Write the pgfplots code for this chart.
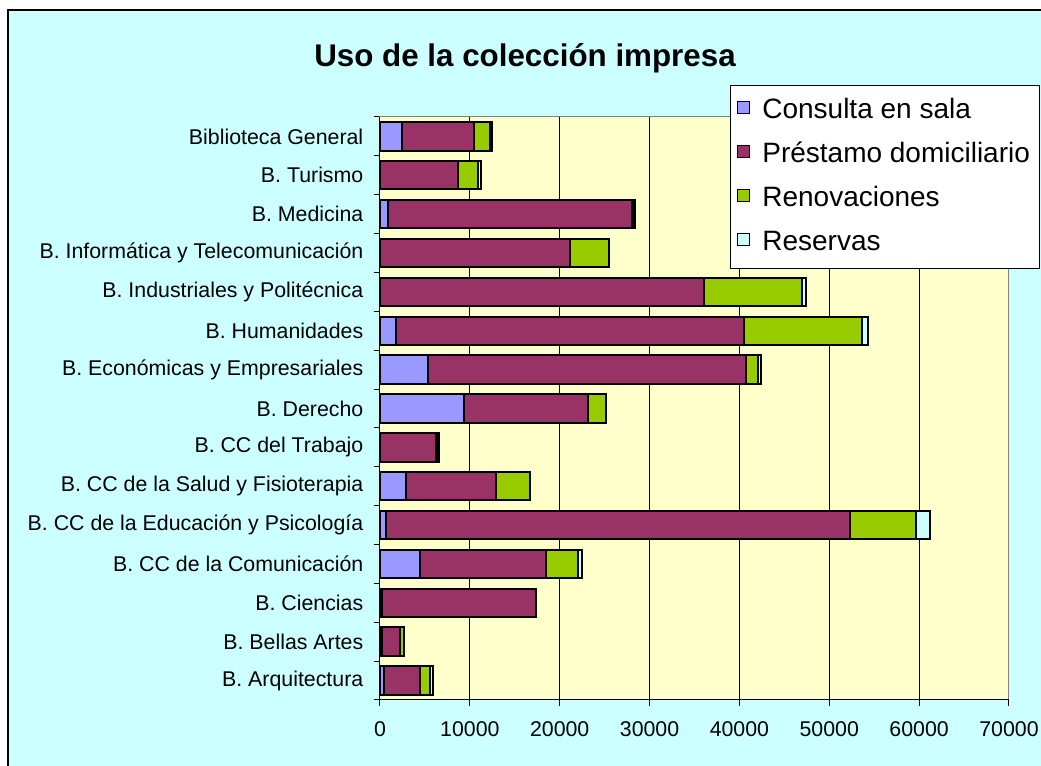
\documentclass[border=0pt]{standalone}
\usepackage{fontspec}
\setmainfont{Liberation Sans}
\usepackage{pgfplots}
\usepackage{pgfplotstable}
\pgfplotsset{compat=1.18}

\definecolor{chartbg}{HTML}{CCFFFF}
\definecolor{plotbg}{HTML}{FFFFCC}
\definecolor{consulta}{HTML}{9999FF}
\definecolor{prestamo}{HTML}{993366}
\definecolor{renov}{HTML}{99CC00}
\definecolor{reservas}{HTML}{CCFFFF}

% idx 0 = B. Arquitectura (abajo) ... 14 = Biblioteca General (arriba)
\pgfplotstableread{
idx consulta prestamo renov reservas
0   445   4045  1030  340
1   250   1980   470    0
2   250  17140     0    0
3  4490  13980  3590  440
4   630  51690  7280 1660
5  2860  10080  3780    0
6     0   6230   150  150
7  9380  13790  2000    0
8  5380  35330  1340  300
9  1780  38750 13120  710
10    0  36040 10930  490
11    0  21170  4270    0
12  925  27145   150  140
13    0   8710  2230  260
14 2480   8010  1710  290
}\datos

\begin{document}
\begin{tikzpicture}[x=0.75pt,y=0.75pt]
% the axis box has its lower left corner at (0,0); the page is 1041 x 766 units
\useasboundingbox (-380,-66) rectangle (661,700);
\clip (-380,-66) rectangle (661,700);
\fill[white] (-380,-66) rectangle (661,700);
\fill[chartbg] (-372,-90) rectangle (700,690);
\draw[line width=1.2pt] (-372,-90) -- (-372,690) -- (700,690);

\node[font=\fontsize{23.5}{28}\selectfont\bfseries] at (145,642) {Uso de la colección impresa};

\begin{axis}[
  scale only axis, width=471.75pt, height=437.25pt,
  xbar stacked, bar width=21.3pt,
  xmin=0, xmax=70000, ymin=-0.5, ymax=14.5,
  xtick={0,10000,...,70000},
  scaled x ticks=false,
  xticklabel style={/pgf/number format/1000 sep={}, /pgf/number format/assume math mode=true,
    font=\fontsize{16}{19}\selectfont, yshift=-8pt},
  ytick={0,...,14},
  yticklabels={B. Arquitectura, B. Bellas Artes, B. Ciencias, B. CC de la Comunicación,
    B. CC de la Educación y Psicología, B. CC de la Salud y Fisioterapia, B. CC del Trabajo,
    B. Derecho, B. Económicas y Empresariales, B. Humanidades, B. Industriales y Politécnica,
    B. Informática y Telecomunicación, B. Medicina, B. Turismo, Biblioteca General},
  yticklabel style={font=\fontsize{16}{19}\selectfont, xshift=-4.5pt},
  major y tick style={draw=none},
  minor ytick={-0.5,0.5,...,14.5},
  tick align=outside, xtick pos=bottom, ytick pos=left,
  major tick length=4.5pt, minor tick length=4.5pt,
  tick style={black, line width=0.75pt},
  xmajorgrids, major grid style={black, line width=0.75pt},
  axis line style={draw=gray, line width=0.75pt},
  axis background/.style={fill=plotbg},
  every axis plot/.append style={draw=black, line width=1.5pt},
  legend style={at={(0.5564,1.0549)}, anchor=north west, draw=black, line width=0.75pt,
    fill=white, font=\fontsize{21}{25}\selectfont, row sep=9.5pt, column sep=7pt,
    inner xsep=5pt, inner ysep=7.5pt,
    nodes={inner sep=2pt, text height=15pt, text depth=4.5pt}},
  legend cell align=left,
  legend image code/.code={\draw[#1, line width=0.9pt] (0pt,-2pt) rectangle (9pt,7pt);},
  after end axis/.code={\draw[black, line width=0.75pt] (rel axis cs:0,1) -- (rel axis cs:0,0) -- (rel axis cs:1,0);},
]
\addplot[fill=consulta] table[x=consulta, y=idx] {\datos};
\addlegendentry{Consulta en sala}
\addplot[fill=prestamo] table[x=prestamo, y=idx] {\datos};
\addlegendentry{Préstamo domiciliario}
\addplot[fill=renov] table[x=renov, y=idx] {\datos};
\addlegendentry{Renovaciones}
\addplot[fill=reservas] table[x=reservas, y=idx] {\datos};
\addlegendentry{Reservas}
\end{axis}
\end{tikzpicture}
\end{document}
